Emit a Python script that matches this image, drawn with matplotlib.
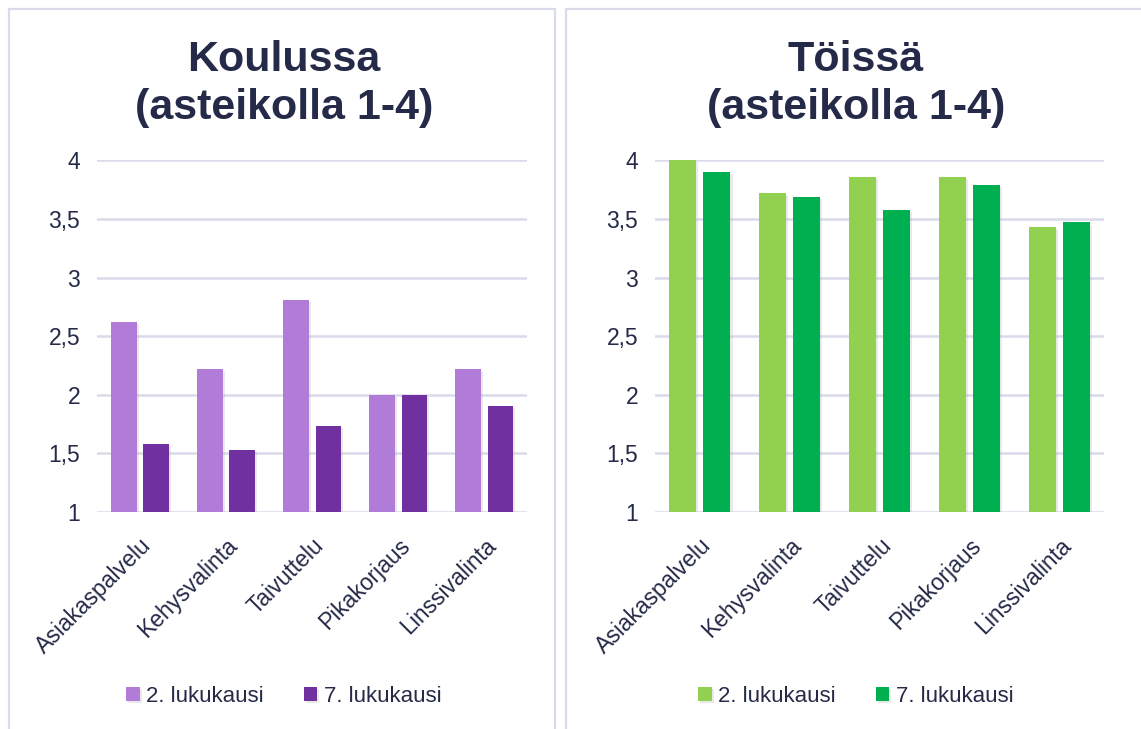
import numpy as np
import matplotlib
matplotlib.use("Agg")
import matplotlib.pyplot as plt
from matplotlib.patches import Rectangle
import matplotlib.patheffects as pe

plt.rcParams["font.family"] = ["Liberation Sans", "DejaVu Sans"]

categories = ["Asiakaspalvelu", "Kehysvalinta", "Taivuttelu", "Pikakorjaus", "Linssivalinta"]
series_names = ["2. lukukausi", "7. lukukausi"]
koulussa_2 = [2.62, 2.22, 2.81, 2.0, 2.22]
koulussa_7 = [1.58, 1.53, 1.73, 2.0, 1.9]
toissa_2 = [4.0, 3.72, 3.86, 3.86, 3.43]
toissa_7 = [3.9, 3.69, 3.58, 3.79, 3.47]
yticks = [1, 1.5, 2, 2.5, 3, 3.5, 4]
ytick_labels = ["1", "1,5", "2", "2,5", "3", "3,5", "4"]

text_col = "#252A48"
grid_col = "#D9DBEA"

fig = plt.figure(figsize=(11.41, 7.29), dpi=100)

# panel frames
for x0, w in [(9, 546), (566, 600)]:
    fig.patches.append(Rectangle((x0 / 1141, -0.05), w / 1141, 1.05 - 9 / 729,
                                 transform=fig.transFigure, fill=False,
                                 edgecolor=grid_col, linewidth=1.6))


def draw_panel(rect, title, v2, v7, colors, center_x):
    ax = fig.add_axes(rect)
    x = np.arange(len(categories))
    w = 0.30
    shadow = [pe.SimplePatchShadow(offset=(1.5, -1.5), shadow_rgbFace="#AAAAAA", alpha=0.25), pe.Normal()]
    for vals, off, c, name in [(v2, -0.19, colors[0], series_names[0]),
                               (v7, 0.19, colors[1], series_names[1])]:
        bars = ax.bar(x + off, np.array(vals) - 1, bottom=1, width=w, color=c,
                      label=name, zorder=3)
        for b in bars:
            b.set_path_effects(shadow)
    ax.set_xlim(-0.5, len(categories) - 0.5)
    ax.set_ylim(1, 4)
    ax.set_yticks(yticks)
    ax.set_yticklabels(ytick_labels, fontsize=16.5, color=text_col)
    ax.yaxis.grid(True, color=grid_col, linewidth=1.8, zorder=0)
    ax.set_axisbelow(True)
    ax.set_xticks(x)
    ax.set_xticklabels(categories, rotation=45, ha="right", rotation_mode="anchor",
                       fontsize=16.5, color=text_col)
    ax.tick_params(axis="y", length=0, pad=12)
    ax.tick_params(axis="x", length=0, pad=16)
    for s in ax.spines.values():
        s.set_visible(False)
    fig.text(center_x, 1 - 84 / 729, title, ha="center", va="center",
             fontsize=31, fontweight="bold", color=text_col, linespacing=1.25)
    fig.legend(*ax.get_legend_handles_labels(), loc="center", ncol=2,
               bbox_to_anchor=(center_x, 0.045), frameon=False, fontsize=16,
               labelcolor=text_col, handlelength=0.6, handleheight=0.6,
               handletextpad=0.3, columnspacing=1.8)
    return ax


draw_panel([0.085, 0.298, 0.377, 0.482], "Koulussa\n(asteikolla 1-4)",
           koulussa_2, koulussa_7, ["#B07CD8", "#7030A0"], 284 / 1141)
draw_panel([0.574, 0.298, 0.394, 0.482], "Töissä\n(asteikolla 1-4)",
           toissa_2, toissa_7, ["#92D050", "#00B050"], 856 / 1141)

fig.savefig("out.png", dpi=100)
